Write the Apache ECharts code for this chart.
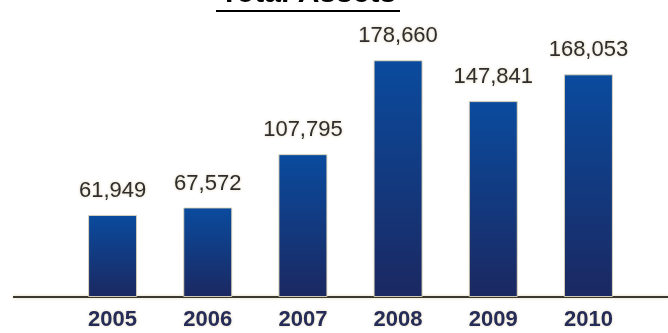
<!DOCTYPE html>
<html><head><meta charset="utf-8">
<script src="https://cdn.jsdelivr.net/npm/echarts@6/dist/echarts.min.js"></script>
<style>html,body{margin:0;padding:0;background:#fff}#c{width:668px;height:333px}</style>
</head><body><div id="c"></div>
<script>
const titleText = 'Total Assets';
const years = ['2005', '2006', '2007', '2008', '2009', '2010'];
const totalAssets = [61949, 67572, 107795, 178660, 147841, 168053];

const chart = echarts.init(document.getElementById('c'));
chart.setOption({
  animation: false,
  backgroundColor: '#ffffff',
  grid: { left: 65, right: 32, top: 32, bottom: 36 },
  xAxis: {
    type: 'category',
    data: years,
    axisLine: { show: false },
    axisTick: { show: false },
    axisLabel: {
      margin: 12,
      fontFamily: 'Liberation Sans, Arial, sans-serif',
      fontWeight: 'bold',
      fontSize: 22,
      color: '#262c58',
      textShadowColor: 'rgba(215,200,160,0.8)',
      textShadowBlur: 3
    }
  },
  yAxis: {
    type: 'value',
    min: 0, max: 200000,
    show: false,
    splitLine: { show: false }
  },
  series: [{
    type: 'bar',
    data: totalAssets,
    barWidth: 49,
    itemStyle: {
      color: new echarts.graphic.LinearGradient(0, 0, 0, 1, [
        { offset: 0, color: '#0a4b9e' },
        { offset: 1, color: '#1b2861' }
      ]),
      borderColor: 'rgba(225,215,185,0.9)',
      borderWidth: 1
    },
    label: {
      show: true,
      position: 'top',
      distance: 13,
      fontFamily: 'Liberation Sans, Arial, sans-serif',
      fontSize: 22,
      color: '#2e2e2e',
      textShadowColor: 'rgba(215,200,160,0.9)',
      textShadowBlur: 3,
      formatter: p => p.value.toLocaleString('en-US')
    }
  }],
  graphic: [
    {
      type: 'line',
      shape: { x1: 13, y1: 297, x2: 668, y2: 297 },
      style: { stroke: '#3b3a30', lineWidth: 2, shadowColor: 'rgba(215,200,160,0.9)', shadowBlur: 3 }
    },
    {
      type: 'text',
      x: 308, y: 9,
      style: {
        text: titleText,
        font: 'bold 30px "Liberation Sans", Arial, sans-serif',
        fill: '#000',
        align: 'center',
        verticalAlign: 'bottom'
      }
    },
    {
      type: 'line',
      shape: { x1: 216, y1: 11, x2: 400, y2: 11 },
      style: { stroke: '#000', lineWidth: 2 }
    }
  ]
});
</script></body></html>
